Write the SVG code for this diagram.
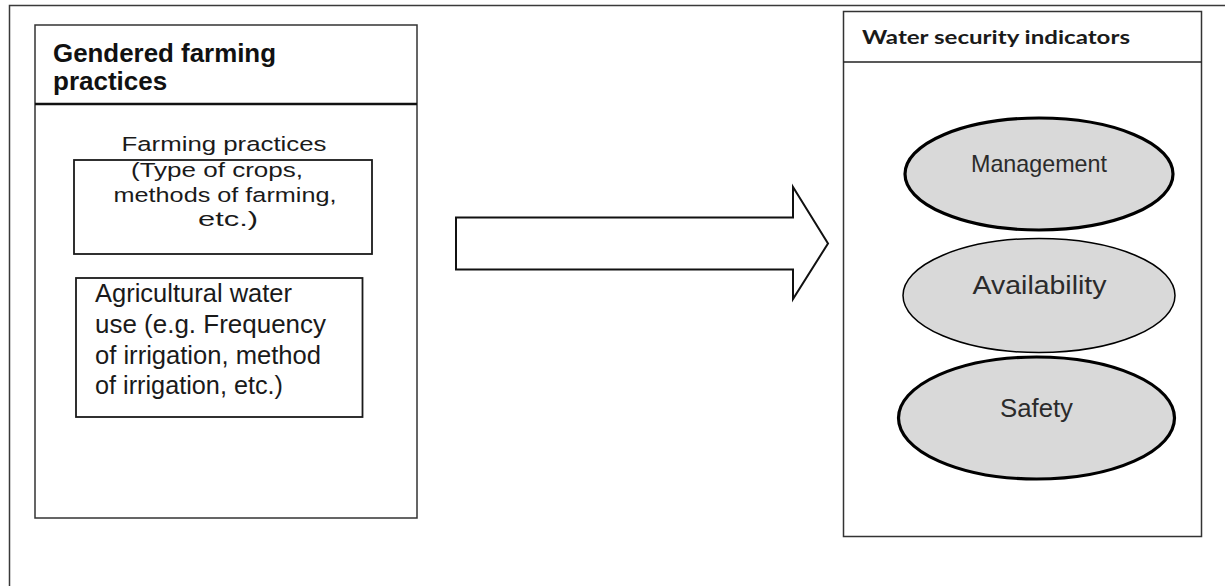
<svg xmlns="http://www.w3.org/2000/svg" width="1225" height="586" viewBox="0 0 1225 586">
<style>
.frame{fill:none;stroke:#3a3a3a;stroke-width:1.5}
.box{fill:#fff;stroke:#333;stroke-width:1.5}
.inner{fill:none;stroke:#1a1a1a;stroke-width:1.8}
.t{font-family:"Liberation Sans",Arial,sans-serif;fill:#1a1a1a}
.hb{font-family:"Liberation Sans",Arial,sans-serif;font-weight:bold;fill:#111}
.hc{font-family:Lato,"Open Sans",sans-serif;font-weight:bold;fill:#1a1a1a}
.ell{fill:#d9d9d9;stroke:#000}
.et{font-family:"Liberation Sans",Arial,sans-serif;fill:#2b2b2b;text-anchor:middle}
</style>
<rect width="1225" height="586" fill="#fff"/>
<path class="frame" d="M9.5,586 V5.5 H1225"/>
<g id="gendered-farming-practices">
<rect class="box" x="35" y="25" width="382" height="493"/>
<line x1="35" y1="104" x2="417" y2="104" stroke="#111" stroke-width="2.5"/>
<text class="hb" x="53" y="62" font-size="26" textLength="223" lengthAdjust="spacingAndGlyphs">Gendered farming</text>
<text class="hb" x="53" y="90" font-size="26">practices</text>
</g>
<g id="farming-practices">
<rect class="inner" x="74" y="160" width="298" height="94"/>
<g class="t" font-size="20.5" text-anchor="middle">
<text x="224" y="151" textLength="205" lengthAdjust="spacingAndGlyphs">Farming practices</text>
<text x="217" y="176.5" textLength="172" lengthAdjust="spacingAndGlyphs">(Type of crops,</text>
<text x="225" y="201.5" textLength="223" lengthAdjust="spacingAndGlyphs">methods of farming,</text>
<text x="228" y="225.5" textLength="60" lengthAdjust="spacingAndGlyphs">etc.)</text>
</g>
</g>
<g id="agricultural-water-use">
<rect class="inner" x="76" y="278" width="286.5" height="139"/>
<g class="t" font-size="25.5">
<text x="95" y="301.5" textLength="197" lengthAdjust="spacingAndGlyphs">Agricultural water</text>
<text x="95" y="332.5" textLength="231" lengthAdjust="spacingAndGlyphs">use (e.g. Frequency</text>
<text x="95" y="363.5" textLength="226" lengthAdjust="spacingAndGlyphs">of irrigation, method</text>
<text x="95" y="394" textLength="188" lengthAdjust="spacingAndGlyphs">of irrigation, etc.)</text>
</g>
</g>
<g id="connectors">
<polygon points="456,217.5 793,217.5 793,187 828,243.5 793,299 793,269.5 456,269.5" fill="#fff" stroke="#111" stroke-width="2" stroke-linejoin="miter"/>
</g>
<g id="water-security-indicators">
<rect class="box" x="843.5" y="11.5" width="358" height="525"/>
<line x1="843.5" y1="62" x2="1201.5" y2="62" stroke="#222" stroke-width="1.5"/>
<text class="hc" x="862" y="43.5" font-size="18" textLength="268" lengthAdjust="spacingAndGlyphs">Water security indicators</text>
</g>
<g id="management">
<ellipse class="ell" cx="1039" cy="174" rx="134" ry="56" stroke-width="3.2"/>
<text class="et" x="1039" y="171.5" font-size="24" textLength="136" lengthAdjust="spacingAndGlyphs">Management</text>
</g>
<g id="availability">
<ellipse class="ell" cx="1039" cy="295.5" rx="136" ry="57" stroke-width="1.5"/>
<text class="et" x="1039.5" y="293.5" font-size="26" textLength="134" lengthAdjust="spacingAndGlyphs">Availability</text>
</g>
<g id="safety">
<ellipse class="ell" cx="1036.5" cy="418" rx="138" ry="61" stroke-width="3.2"/>
<text class="et" x="1036.5" y="416.5" font-size="25" textLength="73" lengthAdjust="spacingAndGlyphs">Safety</text>
</g>
</svg>
